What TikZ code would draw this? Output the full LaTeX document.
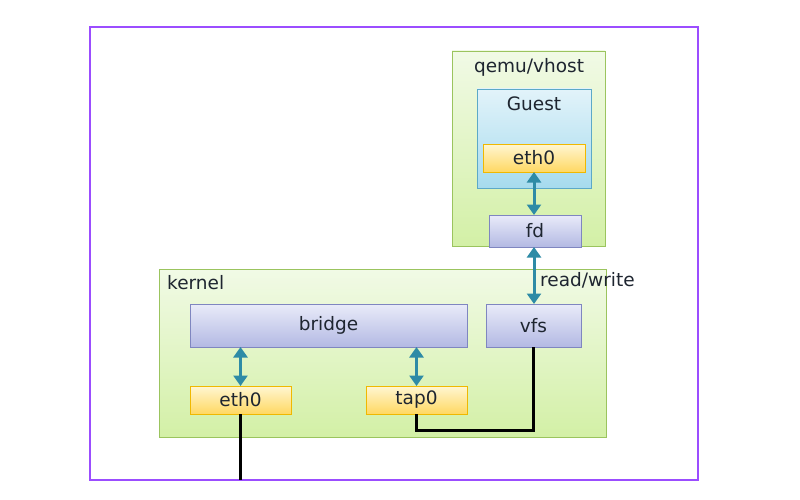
\documentclass[tikz,border=0pt]{standalone}
\usepackage{fontspec}
\setmainfont{DejaVu Sans}
\usetikzlibrary{arrows.meta}
\definecolor{txt}{HTML}{1E2530}
\definecolor{frm}{HTML}{9B4DFF}
\definecolor{grT}{HTML}{F1FAE6}
\definecolor{grB}{HTML}{D3F0A6}
\definecolor{grL}{HTML}{9BC45E}
\definecolor{blT}{HTML}{E2F3FA}
\definecolor{blB}{HTML}{A6DBEE}
\definecolor{blL}{HTML}{5CA9C8}
\definecolor{ylT}{HTML}{FFF6D2}
\definecolor{ylB}{HTML}{FFD862}
\definecolor{ylL}{HTML}{F0B800}
\definecolor{lvT}{HTML}{E9EBF9}
\definecolor{lvB}{HTML}{B3B9E3}
\definecolor{lvL}{HTML}{7F86C0}
\definecolor{teal}{HTML}{2E8BA6}
\tikzset{
  base/.style={inner sep=0pt, outer sep=0pt, line width=0.9pt, font=\fontsize{18.5}{21}\selectfont, text=txt},
  greenbox/.style={base, draw=grL, top color=grT, bottom color=grB},
  bluebox/.style={base, draw=blL, top color=blT, bottom color=blB},
  yellowbox/.style={base, draw=ylL, top color=ylT, bottom color=ylB},
  lavbox/.style={base, draw=lvL, top color=lvT, bottom color=lvB},
  lbl/.style={inner sep=0pt, font=\fontsize{18.5}{21}\selectfont, text=txt},
  dblarrow/.style={draw=teal, line width=3pt, {Triangle[length=10.5pt,width=14pt]}-{Triangle[length=10.5pt,width=14pt]}},
  wire/.style={draw=black, line width=3pt}
}
\begin{document}
\begin{tikzpicture}[x=1pt,y=-1pt]
\useasboundingbox (0,0) rectangle (800,500);
\node[draw=frm, line width=2.6pt, minimum width=608pt, minimum height=453pt, inner sep=0pt, outer sep=0pt] (frame) at (394,253.5) {};
% qemu / vhost
\node[greenbox, minimum width=153pt, minimum height=195pt] (qemu) at (528.5,148.5) {};
\node[lbl] (qemulbl) at (529,67) {qemu/vhost};
\node[bluebox, minimum width=114pt, minimum height=99pt] (guest) at (534,138.5) {};
\node[lbl] (guestlbl) at (534,104) {Guest};
\node[yellowbox, minimum width=102pt, minimum height=28pt] (geth) at (534,158) {eth0};
\node[lavbox, minimum width=92pt, minimum height=32pt] (fd) at (535,231) {fd};
% kernel
\node[greenbox, minimum width=447pt, minimum height=168pt] (kernel) at (382.5,353) {};
\node[lbl, anchor=west] (kernellbl) at (167,283) {kernel};
\node[lavbox, minimum width=277pt, minimum height=43pt] (bridge) at (328.5,325.5) {bridge};
\node[lavbox, minimum width=95pt, minimum height=43pt] (vfs) at (533.5,325.5) {vfs};
\node[yellowbox, minimum width=101pt, minimum height=28pt] (keth) at (240.5,400) {eth0};
\node[yellowbox, minimum width=101pt, minimum height=28pt] (tap) at (416.5,400) {tap0};
\node[lbl, anchor=west] (rw) at (540,280) {read/write};
% connectors
\draw[dblarrow] (geth.south) -- (geth.south |- fd.north);
\draw[dblarrow] (geth.south |- fd.south) -- (geth.south |- vfs.north);
\draw[dblarrow] (keth.north) -- (keth.north |- bridge.south);
\draw[dblarrow] (tap.north) -- (tap.north |- bridge.south);
\draw[wire] (keth.south) -- (keth.south |- frame.south);
\draw[wire] (tap.south) -- ++(0,16) -| (vfs.south);
\end{tikzpicture}
\end{document}
